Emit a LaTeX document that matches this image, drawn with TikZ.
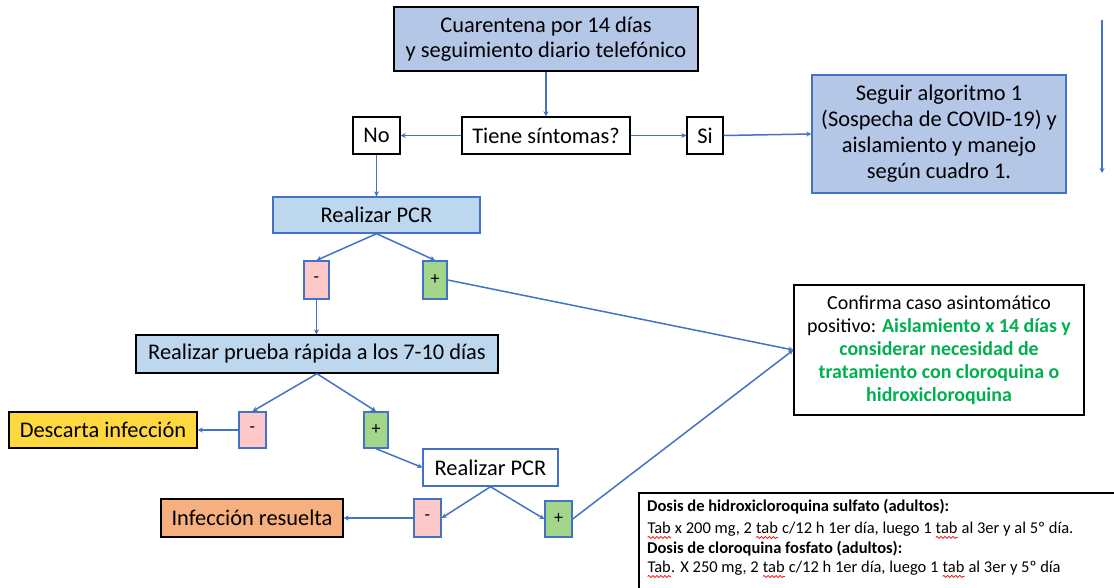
\documentclass[tikz,border=0pt]{standalone}
\usepackage{fontspec}
\setmainfont{Carlito}
\usetikzlibrary{arrows.meta,decorations.pathmorphing}
\definecolor{topfill}{HTML}{B4C7E7}
\definecolor{lblue}{HTML}{BDD7EE}
\definecolor{pinkf}{HTML}{FFC9C9}
\definecolor{greenf}{HTML}{A3D68A}
\definecolor{goldf}{HTML}{FFD83F}
\definecolor{orangef}{HTML}{F6AF7F}
\definecolor{lineblue}{HTML}{4472C4}
\definecolor{greentext}{HTML}{00B050}
\newcommand\redwave[1]{\tikz[baseline=(w.base)]{\node[inner sep=0pt,outer sep=0pt,anchor=base west,draw=none,fill=none] (w) at (0,0) {#1};
  \draw[red, line width=0.7pt, decorate, decoration={snake,amplitude=1pt,segment length=4pt}] ([yshift=-3.5pt]w.base west) -- ([yshift=-3.5pt]w.base east);}}
\tikzset{
  basebox/.style={line width=1.4pt, inner sep=0pt, align=center, font=\fontsize{22.4}{25}\selectfont},
  bbox/.style={basebox, draw=black},
  ubox/.style={basebox, draw=lineblue},
  sbox/.style={ubox, font=\fontsize{18}{20}\selectfont},
  arr/.style={draw=lineblue, line width=1.5pt, -{Stealth[length=5pt,width=5pt]}},
}
\begin{document}
\begin{tikzpicture}[x=1pt,y=-1pt]
\useasboundingbox (0,0) rectangle (1114,588);
\fill[white] (0,0) rectangle (1114,588);

\node[bbox, fill=topfill, minimum width=304pt, minimum height=64pt] (top) at (546,39)
  {Cuarentena por 14 días\\y seguimiento diario telefónico};
\node[bbox, fill=white, minimum width=168pt, minimum height=37pt] (tiene) at (546,135.5) {Tiene síntomas?};
\node[bbox, fill=white, minimum width=47pt, minimum height=37pt] (no) at (376.5,135.5) {No};
\node[bbox, fill=white, minimum width=36pt, minimum height=37pt] (si) at (705,135.5) {Si};
\node[ubox, fill=topfill, minimum width=254pt, minimum height=118pt, font=\fontsize{22.4}{26}\selectfont] (seguir) at (939,134)
  {Seguir algoritmo 1\\(Sospecha de COVID-19) y\\aislamiento y manejo\\según cuadro 1.};
\node[ubox, fill=lblue, minimum width=207pt, minimum height=36pt] (pcr1) at (376.5,215) {Realizar PCR};
\node[sbox, fill=pinkf, minimum width=25pt, minimum height=38pt] (m1) at (316.5,280) {-};
\node[sbox, fill=greenf, minimum width=24pt, minimum height=38pt] (p1) at (435,280) {+};
\node[bbox, fill=lblue, minimum width=362pt, minimum height=38pt] (prueba) at (317,354) {Realizar prueba rápida a los 7-10 días};
\node[bbox, fill=white, minimum width=290pt, minimum height=130pt, font=\fontsize{19.9}{23}\selectfont] (conf) at (939,350)
  {Confirma caso asintomático\\positivo: \textcolor{greentext}{\bfseries Aislamiento x 14 días y}\\
   \textcolor{greentext}{\bfseries considerar necesidad de}\\
   \textcolor{greentext}{\bfseries tratamiento con cloroquina o}\\
   \textcolor{greentext}{\bfseries hidroxicloroquina}};
\node[bbox, fill=goldf, minimum width=188pt, minimum height=36pt] (desc) at (103,430) {Descarta infección};
\node[sbox, fill=pinkf, minimum width=27pt, minimum height=36pt] (m2) at (252.5,430) {-};
\node[sbox, fill=greenf, minimum width=24pt, minimum height=36pt] (p2) at (376,430) {+};
\node[ubox, fill=white, minimum width=135pt, minimum height=37pt] (pcr2) at (490.5,467.5) {Realizar PCR};
\node[bbox, fill=orangef, minimum width=182pt, minimum height=38pt] (inf) at (252,518) {Infección resuelta};
\node[sbox, fill=pinkf, minimum width=27pt, minimum height=38pt] (m3) at (427.5,518) {-};
\node[sbox, fill=greenf, minimum width=27pt, minimum height=36pt] (p3) at (558.5,519) {+};

\begin{scope}
\clip (0,0) rectangle (1114,588);
\draw[line width=1.4pt, fill=white] (639,493) rectangle (1130,600);
\end{scope}
\node[anchor=north west, inner sep=0pt, align=left, font=\fontsize{16.5}{19.5}\selectfont] (dosis) at (647,499)
  {\textbf{Dosis de hidroxicloroquina sulfato (adultos):}\\[3pt]
   \redwave{Tab} x 200 mg, 2 \redwave{tab} c/12 h 1er día, luego 1 \redwave{tab} al 3er y al 5º día.\\
   \textbf{Dosis de cloroquina fosfato (adultos):}\\
   \redwave{Tab}. X 250 mg, 2 \redwave{tab} c/12 h 1er día, luego 1 \redwave{tab} al 3er y 5º día};

\coordinate (s1) at (1102,20);
\coordinate (s2) at (1102,173);

\draw[arr] (top.south) -- (tiene.north);
\draw[arr] (tiene.west) -- (no.east);
\draw[arr] (tiene.east) -- (si.west);
\draw[arr] (si.east) -- (seguir.west);
\draw[arr] (no.south) -- (pcr1.north);
\draw[arr] (pcr1.south) -- (m1.north);
\draw[arr] (pcr1.south) -- (p1.north);
\draw[arr] (m1.south) -- (prueba.north -| m1.south);
\draw[arr] (p1.east) -- (conf.west);
\draw[arr] (prueba.south) -- (m2.north);
\draw[arr] (prueba.south) -- (p2.north);
\draw[arr] (m2.west) -- (desc.east);
\draw[arr] (p2.south) -- (pcr2.west);
\draw[arr] (pcr2.south) -- (m3.east);
\draw[arr] (pcr2.south) -- (p3.west);
\draw[arr] (m3.west) -- (inf.east);
\draw[arr] (p3.east) -- (conf.west);
\draw[arr] (s1) -- (s2);
\end{tikzpicture}
\end{document}
